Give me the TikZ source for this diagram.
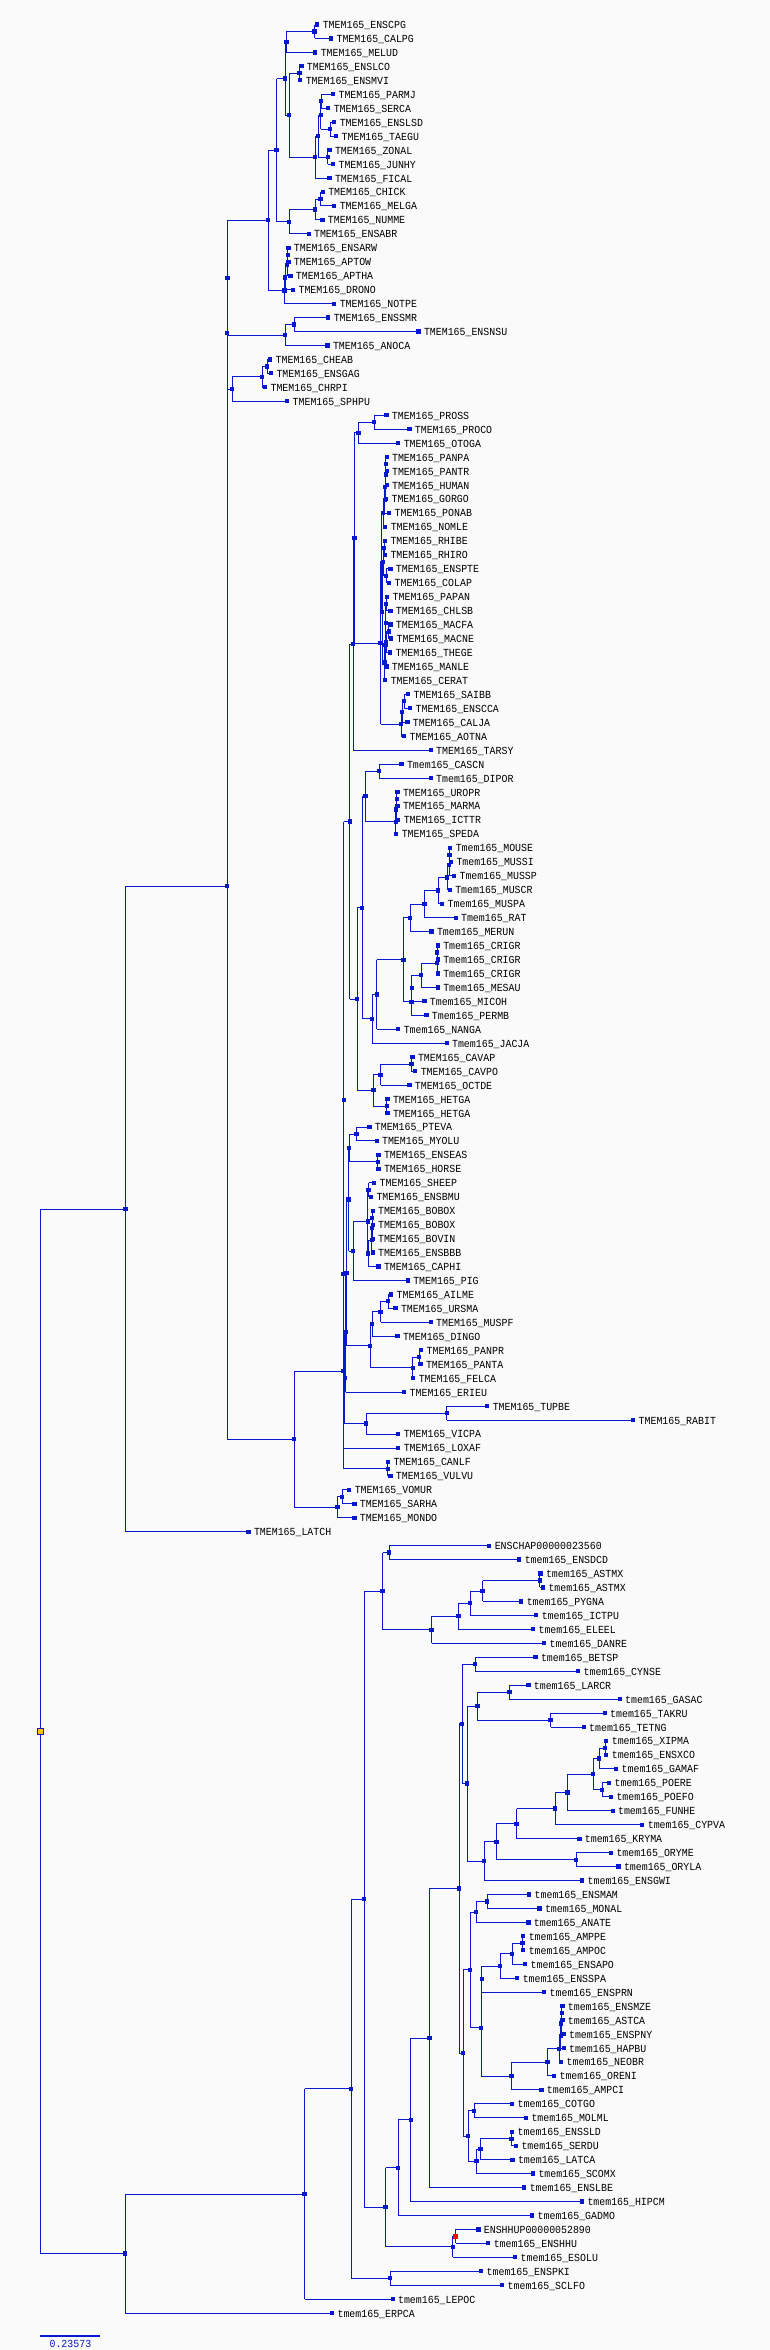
\documentclass[tikz,border=0pt]{standalone}
\usepackage{fontspec}
\newfontfamily\lblfont[FakeStretch=0.917]{Liberation Mono}
\usetikzlibrary{calc}
\definecolor{tb}{RGB}{8,24,204}
\definecolor{bgc}{RGB}{250,250,250}
\definecolor{rootc}{RGB}{255,196,0}
\tikzset{
 sq/.style={draw=none, fill=tb, minimum size=4.2pt, inner sep=0pt, outer sep=0pt, shape=rectangle},
 br/.style={draw=tb, line width=0.85pt},
 lbl/.style={anchor=base west, inner sep=0pt, outer sep=0pt, font=\lblfont\fontsize{10.8}{11}\selectfont, text=black},
}
\newcommand\mkleaf[4]{%
 \node[sq] (#1) at (#2,{24.5+13.955*#3}) {};
 \node[lbl] (#1t) at ([xshift=5.5pt,yshift=-4pt]#1.center) {#4};
}
\newcommand\mkjoin[4]{%
 \path let \p1=(#3.center), \p2=(#4.center) in node[sq] (#1) at (#2pt,{0.5*\y1+0.5*\y2}) {};
 \draw[br] (#1.center |- #3.center) -- (#3.center) (#1.center |- #4.center) -- (#4.center) (#1.center |- #3.center) -- (#1.center |- #4.center);
}
\begin{document}
\begin{tikzpicture}[x=1pt,y=-1pt]
\fill[bgc] (0,0) rectangle (770,2350);
\useasboundingbox (0,0) rectangle (770,2350);
% ---------- leaves ----------
\mkleaf{ENSCPG}{317.3}{0}{TMEM165\_ENSCPG}
\mkleaf{CALPG}{331.1}{1}{TMEM165\_CALPG}
\mkleaf{MELUD}{315.3}{2}{TMEM165\_MELUD}
\mkleaf{ENSLCO}{301.4}{3}{TMEM165\_ENSLCO}
\mkleaf{ENSMVI}{300.3}{4}{TMEM165\_ENSMVI}
\mkleaf{PARMJ}{333.1}{5}{TMEM165\_PARMJ}
\mkleaf{SERCA}{328.3}{6}{TMEM165\_SERCA}
\mkleaf{ENSLSD}{334.3}{7}{TMEM165\_ENSLSD}
\mkleaf{TAEGU}{336.2}{8}{TMEM165\_TAEGU}
\mkleaf{ZONAL}{329.5}{9}{TMEM165\_ZONAL}
\mkleaf{JUNHY}{333.1}{10}{TMEM165\_JUNHY}
\mkleaf{FICAL}{329.5}{11}{TMEM165\_FICAL}
\mkleaf{CHICK}{322.8}{12}{TMEM165\_CHICK}
\mkleaf{MELGA}{334.3}{13}{TMEM165\_MELGA}
\mkleaf{NUMME}{322.4}{14}{TMEM165\_NUMME}
\mkleaf{ENSABR}{308.6}{15}{TMEM165\_ENSABR}
\mkleaf{ENSARW}{288.4}{16}{TMEM165\_ENSARW}
\mkleaf{APTOW}{288.4}{17}{TMEM165\_APTOW}
\mkleaf{APTHA}{290.4}{18}{TMEM165\_APTHA}
\mkleaf{DRONO}{293.1}{19}{TMEM165\_DRONO}
\mkleaf{NOTPE}{334.3}{20}{TMEM165\_NOTPE}
\mkleaf{ENSSMR}{328.3}{21}{TMEM165\_ENSSMR}
\mkleaf{ENSNSU}{418.5}{22}{TMEM165\_ENSNSU}
\mkleaf{ANOCA}{327.5}{23}{TMEM165\_ANOCA}
\mkleaf{CHEAB}{270.2}{24}{TMEM165\_CHEAB}
\mkleaf{ENSGAG}{271.0}{25}{TMEM165\_ENSGAG}
\mkleaf{CHRPI}{265.1}{26}{TMEM165\_CHRPI}
\mkleaf{SPHPU}{287.2}{27}{TMEM165\_SPHPU}
\mkleaf{PROSS}{386.4}{28}{TMEM165\_PROSS}
\mkleaf{PROCO}{409.4}{29}{TMEM165\_PROCO}
\mkleaf{OTOGA}{398.3}{30}{TMEM165\_OTOGA}
\mkleaf{PANPA}{386.6}{31}{TMEM165\_PANPA}
\mkleaf{PANTR}{386.6}{32}{TMEM165\_PANTR}
\mkleaf{HUMAN}{386.6}{33}{TMEM165\_HUMAN}
\mkleaf{GORGO}{386.1}{34}{TMEM165\_GORGO}
\mkleaf{PONAB}{389.2}{35}{TMEM165\_PONAB}
\mkleaf{NOMLE}{385.3}{36}{TMEM165\_NOMLE}
\mkleaf{RHIBE}{385.0}{37}{TMEM165\_RHIBE}
\mkleaf{RHIRO}{385.0}{38}{TMEM165\_RHIRO}
\mkleaf{ENSPTE}{390.4}{39}{TMEM165\_ENSPTE}
\mkleaf{COLAP}{389.2}{40}{TMEM165\_COLAP}
\mkleaf{PAPAN}{387.2}{41}{TMEM165\_PAPAN}
\mkleaf{CHLSB}{390.4}{42}{TMEM165\_CHLSB}
\mkleaf{MACFA}{390.4}{43}{TMEM165\_MACFA}
\mkleaf{MACNE}{391.2}{44}{TMEM165\_MACNE}
\mkleaf{THEGE}{390.0}{45}{TMEM165\_THEGE}
\mkleaf{MANLE}{386.4}{46}{TMEM165\_MANLE}
\mkleaf{CERAT}{385.3}{47}{TMEM165\_CERAT}
\mkleaf{SAIBB}{408.2}{48}{TMEM165\_SAIBB}
\mkleaf{ENSCCA}{410.2}{49}{TMEM165\_ENSCCA}
\mkleaf{CALJA}{407.4}{50}{TMEM165\_CALJA}
\mkleaf{AOTNA}{404.2}{51}{TMEM165\_AOTNA}
\mkleaf{TARSY}{430.7}{52}{TMEM165\_TARSY}
\mkleaf{CASCN}{401.5}{53}{Tmem165\_CASCN}
\mkleaf{DIPOR}{430.7}{54}{Tmem165\_DIPOR}
\mkleaf{UROPR}{397.5}{55}{TMEM165\_UROPR}
\mkleaf{MARMA}{397.5}{56}{TMEM165\_MARMA}
\mkleaf{ICTTR}{398.3}{57}{TMEM165\_ICTTR}
\mkleaf{SPEDA}{396.3}{58}{TMEM165\_SPEDA}
\mkleaf{MOUSE}{450.3}{59}{Tmem165\_MOUSE}
\mkleaf{MUSSI}{451.0}{60}{Tmem165\_MUSSI}
\mkleaf{MUSSP}{454.1}{61}{Tmem165\_MUSSP}
\mkleaf{MUSCR}{449.8}{62}{Tmem165\_MUSCR}
\mkleaf{MUSPA}{442.2}{63}{Tmem165\_MUSPA}
\mkleaf{RAT}{455.6}{64}{Tmem165\_RAT}
\mkleaf{MERUN}{431.5}{65}{Tmem165\_MERUN}
\mkleaf{CRIGRa}{437.8}{66}{Tmem165\_CRIGR}
\mkleaf{CRIGRb}{437.8}{67}{Tmem165\_CRIGR}
\mkleaf{CRIGRc}{437.8}{68}{Tmem165\_CRIGR}
\mkleaf{MESAU}{437.8}{69}{Tmem165\_MESAU}
\mkleaf{MICOH}{424.4}{70}{Tmem165\_MICOH}
\mkleaf{PERMB}{426.4}{71}{Tmem165\_PERMB}
\mkleaf{NANGA}{398.3}{72}{Tmem165\_NANGA}
\mkleaf{JACJA}{446.6}{73}{Tmem165\_JACJA}
\mkleaf{CAVAP}{412.5}{74}{TMEM165\_CAVAP}
\mkleaf{CAVPO}{415.3}{75}{TMEM165\_CAVPO}
\mkleaf{OCTDE}{409.4}{76}{TMEM165\_OCTDE}
\mkleaf{HETGAa}{387.5}{77}{TMEM165\_HETGA}
\mkleaf{HETGAb}{387.5}{78}{TMEM165\_HETGA}
\mkleaf{PTEVA}{369.4}{79}{TMEM165\_PTEVA}
\mkleaf{MYOLU}{376.6}{80}{TMEM165\_MYOLU}
\mkleaf{ENSEAS}{378.5}{81}{TMEM165\_ENSEAS}
\mkleaf{HORSE}{378.5}{82}{TMEM165\_HORSE}
\mkleaf{SHEEP}{374.2}{83}{TMEM165\_SHEEP}
\mkleaf{ENSBMU}{371.0}{84}{TMEM165\_ENSBMU}
\mkleaf{BOBOXa}{372.6}{85}{TMEM165\_BOBOX}
\mkleaf{BOBOXb}{372.6}{86}{TMEM165\_BOBOX}
\mkleaf{BOVIN}{372.6}{87}{TMEM165\_BOVIN}
\mkleaf{ENSBBB}{372.6}{88}{TMEM165\_ENSBBB}
\mkleaf{CAPHI}{378.5}{89}{TMEM165\_CAPHI}
\mkleaf{PIG}{407.8}{90}{TMEM165\_PIG}
\mkleaf{AILME}{391.2}{91}{TMEM165\_AILME}
\mkleaf{URSMA}{395.5}{92}{TMEM165\_URSMA}
\mkleaf{MUSPF}{430.7}{93}{TMEM165\_MUSPF}
\mkleaf{DINGO}{397.5}{94}{TMEM165\_DINGO}
\mkleaf{PANPR}{421.2}{95}{TMEM165\_PANPR}
\mkleaf{PANTA}{420.5}{96}{TMEM165\_PANTA}
\mkleaf{FELCA}{413.3}{97}{TMEM165\_FELCA}
\mkleaf{ERIEU}{404.2}{98}{TMEM165\_ERIEU}
\mkleaf{TUPBE}{487.3}{99}{TMEM165\_TUPBE}
\mkleaf{RABIT}{633.2}{100}{TMEM165\_RABIT}
\mkleaf{VICPA}{398.3}{101}{TMEM165\_VICPA}
\mkleaf{LOXAF}{398.3}{102}{TMEM165\_LOXAF}
\mkleaf{CANLF}{388.0}{103}{TMEM165\_CANLF}
\mkleaf{VULVU}{390.4}{104}{TMEM165\_VULVU}
\mkleaf{VOMUR}{349.3}{105}{TMEM165\_VOMUR}
\mkleaf{SARHA}{354.4}{106}{TMEM165\_SARHA}
\mkleaf{MONDO}{354.4}{107}{TMEM165\_MONDO}
\mkleaf{LATCH}{248.5}{108}{TMEM165\_LATCH}
\mkleaf{ENSCHAP}{489.3}{109}{ENSCHAP00000023560}
\mkleaf{ENSDCD}{519.3}{110}{tmem165\_ENSDCD}
\mkleaf{ASTMXa}{540.5}{111}{tmem165\_ASTMX}
\mkleaf{ASTMXb}{543.0}{112}{tmem165\_ASTMX}
\mkleaf{PYGNA}{521.3}{113}{tmem165\_PYGNA}
\mkleaf{ICTPU}{536.3}{114}{tmem165\_ICTPU}
\mkleaf{ELEEL}{533.1}{115}{tmem165\_ELEEL}
\mkleaf{DANRE}{544.2}{116}{tmem165\_DANRE}
\mkleaf{BETSP}{535.5}{117}{tmem165\_BETSP}
\mkleaf{CYNSE}{578.2}{118}{tmem165\_CYNSE}
\mkleaf{LARCR}{528.4}{119}{tmem165\_LARCR}
\mkleaf{GASAC}{619.7}{120}{tmem165\_GASAC}
\mkleaf{TAKRU}{604.7}{121}{tmem165\_TAKRU}
\mkleaf{TETNG}{583.7}{122}{tmem165\_TETNG}
\mkleaf{XIPMA}{606.3}{123}{tmem165\_XIPMA}
\mkleaf{ENSXCO}{606.3}{124}{tmem165\_ENSXCO}
\mkleaf{GAMAF}{616.2}{125}{tmem165\_GAMAF}
\mkleaf{POERE}{609.1}{126}{tmem165\_POERE}
\mkleaf{POEFO}{611.0}{127}{tmem165\_POEFO}
\mkleaf{FUNHE}{612.6}{128}{tmem165\_FUNHE}
\mkleaf{CYPVA}{642.3}{129}{tmem165\_CYPVA}
\mkleaf{KRYMA}{579.4}{130}{tmem165\_KRYMA}
\mkleaf{ORYME}{611.0}{131}{tmem165\_ORYME}
\mkleaf{ORYLA}{618.5}{132}{tmem165\_ORYLA}
\mkleaf{ENSGWI}{582.2}{133}{tmem165\_ENSGWI}
\mkleaf{ENSMAM}{529.2}{134}{tmem165\_ENSMAM}
\mkleaf{MONAL}{539.5}{135}{tmem165\_MONAL}
\mkleaf{ANATE}{528.4}{136}{tmem165\_ANATE}
\mkleaf{AMPPE}{523.3}{137}{tmem165\_AMPPE}
\mkleaf{AMPOC}{523.3}{138}{tmem165\_AMPOC}
\mkleaf{ENSAPO}{525.2}{139}{tmem165\_ENSAPO}
\mkleaf{ENSSPA}{517.3}{140}{tmem165\_ENSSPA}
\mkleaf{ENSPRN}{544.2}{141}{tmem165\_ENSPRN}
\mkleaf{ENSMZE}{562.4}{142}{tmem165\_ENSMZE}
\mkleaf{ASTCA}{562.4}{143}{tmem165\_ASTCA}
\mkleaf{ENSPNY}{563.6}{144}{tmem165\_ENSPNY}
\mkleaf{HAPBU}{563.6}{145}{tmem165\_HAPBU}
\mkleaf{NEOBR}{561.2}{146}{tmem165\_NEOBR}
\mkleaf{ORENI}{554.1}{147}{tmem165\_ORENI}
\mkleaf{AMPCI}{541.4}{148}{tmem165\_AMPCI}
\mkleaf{COTGO}{512.2}{149}{tmem165\_COTGO}
\mkleaf{MOLML}{526.0}{150}{tmem165\_MOLML}
\mkleaf{ENSSLD}{512.2}{151}{tmem165\_ENSSLD}
\mkleaf{SERDU}{516.0}{152}{tmem165\_SERDU}
\mkleaf{LATCA}{512.5}{153}{tmem165\_LATCA}
\mkleaf{SCOMX}{533.0}{154}{tmem165\_SCOMX}
\mkleaf{ENSLBE}{524.3}{155}{tmem165\_ENSLBE}
\mkleaf{HIPCM}{582.0}{156}{tmem165\_HIPCM}
\mkleaf{GADMO}{532.2}{157}{tmem165\_GADMO}
\mkleaf{ENSHHUP}{478.4}{158}{ENSHHUP00000052890}
\mkleaf{ENSHHU}{488.3}{159}{tmem165\_ENSHHU}
\mkleaf{ESOLU}{515.2}{160}{tmem165\_ESOLU}
\mkleaf{ENSPKI}{481.2}{161}{tmem165\_ENSPKI}
\mkleaf{SCLFO}{502.2}{162}{tmem165\_SCLFO}
\mkleaf{LEPOC}{392.6}{163}{tmem165\_LEPOC}
\mkleaf{ERPCA}{332.1}{164}{tmem165\_ERPCA}
% ---------- birds / reptiles ----------
\mkjoin{a1}{314.5}{ENSCPG}{CALPG}
\mkjoin{a2}{286.4}{a1}{MELUD}
\mkjoin{a3}{299.5}{ENSLCO}{ENSMVI}
\mkjoin{a9}{321.2}{PARMJ}{SERCA}
\mkjoin{a10}{330.3}{ENSLSD}{TAEGU}
\mkjoin{a8}{320.8}{a9}{a10}
\mkjoin{a11}{327.8}{ZONAL}{JUNHY}
\mkjoin{a7}{318.0}{a8}{a11}
\mkjoin{a6}{315.3}{a7}{FICAL}
\mkjoin{a5}{289.2}{a3}{a6}
\mkjoin{a4}{285.2}{a2}{a5}
\mkjoin{b1}{320.4}{CHICK}{MELGA}
\mkjoin{b2}{315.3}{b1}{NUMME}
\mkjoin{b3}{289.2}{b2}{ENSABR}
\mkjoin{c1}{276.5}{a4}{b3}
\mkjoin{d4}{287.8}{ENSARW}{APTOW}
\mkjoin{d3}{287.0}{d4}{APTHA}
\mkjoin{d2}{285.0}{d3}{DRONO}
\mkjoin{d1}{284.4}{d2}{NOTPE}
\mkjoin{c2}{268.2}{c1}{d1}
\mkjoin{e1}{294.3}{ENSSMR}{ENSNSU}
\mkjoin{e2}{285.2}{e1}{ANOCA}
\mkjoin{f1}{227.5}{c2}{e2}
\mkjoin{g3}{267.0}{CHEAB}{ENSGAG}
\mkjoin{g2}{262.3}{g3}{CHRPI}
\mkjoin{g1}{232.2}{g2}{SPHPU}
\mkjoin{f2}{227.3}{f1}{g1}
% ---------- primates ----------
\mkjoin{p1}{374.2}{PROSS}{PROCO}
\mkjoin{p2}{358.4}{p1}{OTOGA}
\mkjoin{q6}{385.8}{PANPA}{PANTR}
\mkjoin{q7}{385.6}{q6}{HUMAN}
\mkjoin{q8}{385.3}{q7}{GORGO}
\mkjoin{q9}{384.6}{q8}{PONAB}
\mkjoin{q4}{383.3}{q9}{NOMLE}
\mkjoin{rr}{384.3}{RHIBE}{RHIRO}
\mkjoin{pc}{386.1}{ENSPTE}{COLAP}
\mkjoin{colob}{383.0}{rr}{pc}
\mkjoin{pcn}{386.0}{PAPAN}{CHLSB}
\mkjoin{mmb}{388.8}{MACFA}{MACNE}
\mkjoin{mt}{386.3}{mmb}{THEGE}
\mkjoin{pm}{385.8}{pcn}{mt}
\mkjoin{pmm}{385.5}{pm}{MANLE}
\mkjoin{cerc}{384.5}{pmm}{CERAT}
\mkjoin{Q5}{382.2}{colob}{cerc}
\mkjoin{Q2}{381.8}{q4}{Q5}
\mkjoin{q11}{404.2}{SAIBB}{ENSCCA}
\mkjoin{q10}{402.0}{q11}{CALJA}
\mkjoin{Q3}{401.3}{q10}{AOTNA}
\mkjoin{Q1}{380.5}{Q2}{Q3}
\mkjoin{P3}{354.4}{p2}{Q1}
\mkjoin{P4}{353.2}{P3}{TARSY}
% ---------- glires ----------
\mkjoin{s1}{379.3}{CASCN}{DIPOR}
\mkjoin{s4}{396.8}{UROPR}{MARMA}
\mkjoin{s3}{396.3}{s4}{ICTTR}
\mkjoin{s2}{395.8}{s3}{SPEDA}
\mkjoin{s5}{365.5}{s1}{s2}
\mkjoin{s17}{449.5}{MOUSE}{MUSSI}
\mkjoin{s16}{449.0}{s17}{MUSSP}
\mkjoin{s15}{447.3}{s16}{MUSCR}
\mkjoin{s14}{438.3}{s15}{MUSPA}
\mkjoin{s13}{424.4}{s14}{RAT}
\mkjoin{s12}{410.2}{s13}{MERUN}
\mkjoin{cr1}{437.3}{CRIGRa}{CRIGRb}
\mkjoin{cr2}{437.0}{cr1}{CRIGRc}
\mkjoin{s19}{421.2}{cr2}{MESAU}
\mkjoin{s20}{411.8}{s19}{MICOH}
\mkjoin{s18}{411.4}{s20}{PERMB}
\mkjoin{s11}{403.4}{s12}{s18}
\mkjoin{s10}{376.6}{s11}{NANGA}
\mkjoin{s9}{372.2}{s10}{JACJA}
\mkjoin{s8}{362.3}{s5}{s9}
\mkjoin{t3}{411.4}{CAVAP}{CAVPO}
\mkjoin{t2}{380.5}{t3}{OCTDE}
\mkjoin{t4}{386.8}{HETGAa}{HETGAb}
\mkjoin{t1}{373.4}{t2}{t4}
\mkjoin{s7}{357.2}{s8}{t1}
\mkjoin{s6}{349.7}{P4}{s7}
% ---------- laurasiatheria etc ----------
\mkjoin{v1}{356.4}{PTEVA}{MYOLU}
\mkjoin{v2}{377.8}{ENSEAS}{HORSE}
\mkjoin{v3}{349.0}{v1}{v2}
\mkjoin{bv1}{372.2}{BOBOXa}{BOBOXb}
\mkjoin{bv2}{372.0}{bv1}{BOVIN}
\mkjoin{bv3}{371.6}{bv2}{ENSBBB}
\mkjoin{bv4}{368.3}{bv3}{CAPHI}
\mkjoin{bv5}{368.5}{SHEEP}{ENSBMU}
\mkjoin{bv6}{367.8}{bv5}{bv4}
\mkjoin{bv7}{353.2}{bv6}{PIG}
\mkjoin{w1}{348.5}{v3}{bv7}
\mkjoin{ca1}{388.0}{AILME}{URSMA}
\mkjoin{ca2}{380.5}{ca1}{MUSPF}
\mkjoin{ca3}{372.2}{ca2}{DINGO}
\mkjoin{fe1}{419.3}{PANPR}{PANTA}
\mkjoin{fe2}{412.8}{fe1}{FELCA}
\mkjoin{car1}{370.2}{ca3}{fe2}
\mkjoin{w2}{346.4}{w1}{car1}
\mkjoin{u3}{345.6}{w2}{ERIEU}
\mkjoin{tvr1}{446.6}{TUPBE}{RABIT}
\mkjoin{tvr2}{366.3}{tvr1}{VICPA}
\mkjoin{u2}{344.8}{u3}{tvr2}
\mkjoin{u1}{343.6}{s6}{u2}
\mkjoin{u4}{343.3}{u1}{LOXAF}
\mkjoin{cv}{387.6}{CANLF}{VULVU}
\mkjoin{M2}{343.0}{u4}{cv}
\mkjoin{mo1}{342.2}{VOMUR}{SARHA}
\mkjoin{mo2}{337.4}{mo1}{MONDO}
\mkjoin{M1}{294.3}{M2}{mo2}
\mkjoin{H}{227.0}{f2}{M1}
\mkjoin{S}{125.5}{H}{LATCH}
% ---------- actinopterygii ----------
\mkjoin{ot0}{389.2}{ENSCHAP}{ENSDCD}
\mkjoin{am}{539.8}{ASTMXa}{ASTMXb}
\mkjoin{ot1}{482.5}{am}{PYGNA}
\mkjoin{ot2}{470.3}{ot1}{ICTPU}
\mkjoin{ot3}{458.4}{ot2}{ELEEL}
\mkjoin{ot4}{431.5}{ot3}{DANRE}
\mkjoin{o1}{382.5}{ot0}{ot4}
\mkjoin{sc1}{475.0}{BETSP}{CYNSE}
\mkjoin{ga1}{509.4}{LARCR}{GASAC}
\mkjoin{tt1}{550.5}{TAKRU}{TETNG}
\mkjoin{gt}{477.4}{ga1}{tt1}
\mkjoin{xx}{605.0}{XIPMA}{ENSXCO}
\mkjoin{cy7}{599.2}{xx}{GAMAF}
\mkjoin{po}{602.3}{POERE}{POEFO}
\mkjoin{cy6}{593.2}{cy7}{po}
\mkjoin{cy5}{567.5}{cy6}{FUNHE}
\mkjoin{cy4}{555.3}{cy5}{CYPVA}
\mkjoin{cy3}{516.5}{cy4}{KRYMA}
\mkjoin{or1}{576.2}{ORYME}{ORYLA}
\mkjoin{cy2}{496.4}{cy3}{or1}
\mkjoin{cyp}{484.1}{cy2}{ENSGWI}
\mkjoin{cy1}{467.1}{gt}{cyp}
\mkjoin{sc2}{462.0}{sc1}{cy1}
\mkjoin{mm1}{487.3}{ENSMAM}{MONAL}
\mkjoin{mm3}{476.2}{mm1}{ANATE}
\mkjoin{ap1}{522.5}{AMPPE}{AMPOC}
\mkjoin{ap2}{512.2}{ap1}{ENSAPO}
\mkjoin{ap3}{500.3}{ap2}{ENSSPA}
\mkjoin{ap4}{481.8}{ap3}{ENSPRN}
\mkjoin{ck1}{561.8}{ENSMZE}{ASTCA}
\mkjoin{ck2}{561.3}{ck1}{ENSPNY}
\mkjoin{ck3}{560.8}{ck2}{HAPBU}
\mkjoin{ch4}{559.2}{ck3}{NEOBR}
\mkjoin{ch3}{547.4}{ch4}{ORENI}
\mkjoin{ch2}{511.4}{ch3}{AMPCI}
\mkjoin{ch1}{481.0}{ap4}{ch2}
\mkjoin{cm1}{470.3}{mm3}{ch1}
\mkjoin{cm2}{474.2}{COTGO}{MOLML}
\mkjoin{sl1}{511.4}{ENSSLD}{SERDU}
\mkjoin{sl2}{480.4}{sl1}{LATCA}
\mkjoin{sl3}{476.5}{sl2}{SCOMX}
\mkjoin{pc3}{468.3}{cm2}{sl3}
\mkjoin{pc2}{463.2}{cm1}{pc3}
\mkjoin{pc1}{459.2}{sc2}{pc2}
\mkjoin{pe1}{429.5}{pc1}{ENSLBE}
\mkjoin{pe2}{410.6}{pe1}{HIPCM}
\mkjoin{pe3}{398.2}{pe2}{GADMO}
\mkjoin{hh}{455.5}{ENSHHUP}{ENSHHU}
\mkjoin{es}{452.7}{hh}{ESOLU}
\mkjoin{pe4}{385.5}{pe3}{es}
\mkjoin{o2}{364.3}{o1}{pe4}
\mkjoin{pk}{390.3}{ENSPKI}{SCLFO}
\mkjoin{A2}{351.3}{o2}{pk}
\mkjoin{A1}{304.5}{A2}{LEPOC}
\mkjoin{A}{125.3}{A1}{ERPCA}
\mkjoin{R}{40.3}{S}{A}
% highlighted nodes
\fill[red] ([shift={(-2.3pt,-2.3pt)}]hh.center) rectangle ([shift={(2.3pt,2.3pt)}]hh.center);
\filldraw[fill=rootc, draw=tb, line width=0.7pt] ([shift={(-2.8pt,-2.8pt)}]R.center) rectangle ([shift={(2.8pt,2.8pt)}]R.center);
% scale bar
\coordinate (sb1) at (40.3,2335.7);
\coordinate (sb2) at (100.4,2335.7);
\draw[tb, line width=2pt] (sb1) -- (sb2);
\node[lbl, anchor=base, text=tb] (sblabel) at (70.4,2347.5) {0.23573};
\end{tikzpicture}
\end{document}
